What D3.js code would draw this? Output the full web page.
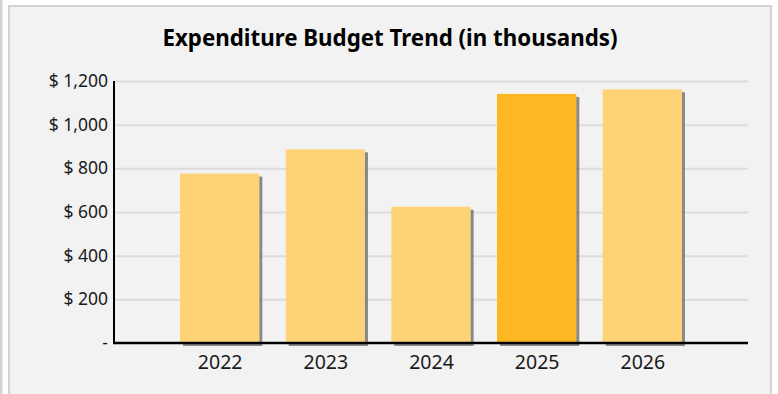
<!DOCTYPE html>
<html>
<head>
<meta charset="utf-8">
<script src="https://cdn.jsdelivr.net/npm/d3@7/dist/d3.min.js"></script>
<style>
  html, body { margin: 0; padding: 0; background: #ffffff; }
  svg { display: block; }
</style>
</head>
<body>
<svg id="chart" width="778" height="394"></svg>
<script>
// Budget by year, in thousands of dollars
const years = ["2022", "2023", "2024", "2025", "2026"];
const budget = [776, 887, 624, 1141, 1162];
const highlightYear = "2025";
const yTicks = [0, 200, 400, 600, 800, 1000, 1200];
const chartTitle = "Expenditure Budget Trend (in thousands)";

const svg = d3.select("#chart");
const W = 778, H = 394;
const margin = { left: 114, right: 30, top: 81, bottom: 51 };

// neighbouring panel edge and the card frame
svg.append("rect").attr("x", 0).attr("y", 0).attr("width", 2.5).attr("height", H).attr("fill", "#d3d3d3");
svg.append("rect")
  .attr("x", 9).attr("y", 6).attr("width", 762).attr("height", H + 10)
  .attr("fill", "#f2f2f2").attr("stroke", "#d2d2d2").attr("stroke-width", 2);

// soft drop shadow for bars
const defs = svg.append("defs");
const f = defs.append("filter").attr("id", "barShadow")
  .attr("x", "-10%").attr("y", "-10%").attr("width", "130%").attr("height", "130%");
f.append("feDropShadow").attr("dx", 3).attr("dy", 3).attr("stdDeviation", 0.7)
  .attr("flood-color", "#6e6e6e").attr("flood-opacity", 0.8);

const x = d3.scalePoint().domain(years).range([margin.left, W - margin.right]).padding(1);
const y = d3.scaleLinear().domain([0, 1200]).range([H - margin.bottom, margin.top]);
const barW = x.step() * 0.75;

// title
svg.append("text")
  .attr("x", 390).attr("y", 46)
  .attr("text-anchor", "middle")
  .attr("font-family", "'Noto Sans', sans-serif")
  .attr("font-weight", "bold").attr("font-size", 22.3)
  .attr("fill", "#000")
  .text(chartTitle);

// horizontal gridlines
const yAxis = d3.axisLeft(y).tickValues(yTicks)
  .tickSize(-(W - margin.right - margin.left))
  .tickPadding(6)
  .tickFormat(d => d === 0 ? "-" : "$ " + d3.format(",")(d));
const gy = svg.append("g").attr("transform", `translate(${margin.left},0)`).call(yAxis);
gy.select(".domain").remove();
gy.selectAll(".tick line").attr("stroke", "#dcdcdc").attr("stroke-width", 2)
  .attr("x1", 0);
gy.selectAll(".tick text")
  .attr("font-family", "'Noto Sans', sans-serif").attr("font-size", 17.5)
  .attr("fill", "#1a1a1a").attr("x", -6).attr("dy", "0.32em");
gy.selectAll(".tick").filter(d => d === 0).select("line").remove();

// bars
svg.append("g").selectAll("rect")
  .data(years.map((yr, i) => ({ yr, v: budget[i] })))
  .join("rect")
  .attr("x", d => x(d.yr) - barW / 2)
  .attr("width", barW)
  .attr("y", d => y(d.v))
  .attr("height", d => y(0) - y(d.v))
  .attr("fill", d => d.yr === highlightYear ? "#fdb720" : "#fed277")
  .attr("filter", "url(#barShadow)");

// axes lines
svg.append("line")
  .attr("x1", margin.left).attr("x2", margin.left)
  .attr("y1", y(1200)).attr("y2", y(0) + 1)
  .attr("stroke", "#000").attr("stroke-width", 2);
svg.append("line")
  .attr("x1", margin.left - 1).attr("x2", W - margin.right)
  .attr("y1", y(0)).attr("y2", y(0))
  .attr("stroke", "#000").attr("stroke-width", 2.5);

// year labels
const gx = svg.append("g").attr("transform", `translate(0,${y(0)})`)
  .call(d3.axisBottom(x).tickSize(0).tickPadding(12));
gx.select(".domain").remove();
gx.selectAll(".tick text")
  .attr("font-family", "'Noto Sans', sans-serif").attr("font-size", 19.5)
  .attr("fill", "#1a1a1a");
</script>
</body>
</html>
